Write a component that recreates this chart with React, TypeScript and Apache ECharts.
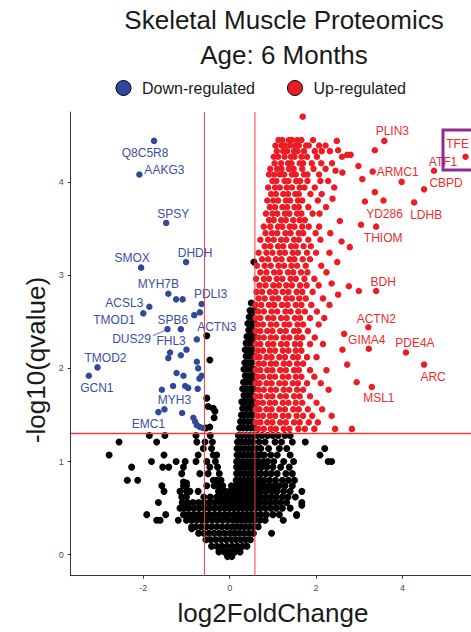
import React, { useEffect, useRef } from "react";
import * as echarts from "echarts";

// ---------- axis / thresholds ----------
const xTicks = [-2, 0, 2, 4];
const yTicks = [0, 1, 2, 3, 4];
const X_RANGE: [number, number] = [-3.68, 5.586];
const Y_RANGE: [number, number] = [-0.225, 4.75];
const FC_CUT = 0.585; // log2(1.5)
const Q_CUT = 1.301; // -log10(0.05)

// ---------- down-regulated (blue) ----------
const downLabeled: [string, number, number][] = [
  ["Q8C5R8", -1.75, 4.44],
  ["AAKG3", -2.09, 4.08],
  ["SPSY", -1.47, 3.56],
  ["SMOX", -2.05, 3.08],
  ["DHDH", -1.01, 3.14],
  ["MYH7B", -1.42, 2.8],
  ["PDLI3", -0.65, 2.69],
  ["ACSL3", -1.86, 2.66],
  ["TMOD1", -2.0, 2.59],
  ["SPB6", -1.13, 2.42],
  ["DUS29", -1.44, 2.42],
  ["ACTN3", -0.76, 2.31],
  ["FHL3", -1.38, 2.17],
  ["TMOD2", -3.06, 2.01],
  ["GCN1", -3.26, 1.92],
  ["MYH3", -1.51, 1.56],
  ["EMC1", -1.65, 1.53],
];
const downOther: [number, number][] = [
  [-1.24, 2.74], [-1.09, 2.74], [-0.82, 2.57], [-0.69, 2.6], [-1.42, 2.11],
  [-1.13, 2.14], [-1.0, 2.2], [-0.76, 2.07], [-0.73, 2.0], [-1.23, 1.95],
  [-1.07, 1.92], [-0.65, 1.92], [-0.7, 1.89], [-1.31, 1.81], [-1.03, 1.81],
  [-0.96, 1.79], [-1.57, 1.77], [-0.74, 1.78], [-1.1, 1.52], [-0.84, 1.47],
  [-0.8, 1.43], [-0.76, 1.39], [-0.69, 1.37], [-0.62, 1.36],
];

// ---------- up-regulated (red) ----------
const upLabeled: [string, number, number][] = [
  ["PLIN3", 3.58, 4.44],
  ["TFE", 5.46, 4.27],
  ["ATF1", 4.73, 4.12],
  ["ARMC1", 3.31, 4.11],
  ["CBPD", 4.5, 3.92],
  ["LDHB", 4.27, 3.78],
  ["YD286", 3.56, 3.8],
  ["THIOM", 3.39, 3.52],
  ["BDH", 3.39, 2.83],
  ["ACTN2", 3.21, 2.44],
  ["GIMA4", 3.22, 2.21],
  ["PDE4A", 4.08, 2.17],
  ["ARC", 4.5, 2.04],
  ["MSL1", 3.29, 1.8],
];
const upOther: [number, number][] = [
  [3.36, 4.34], [2.48, 4.44], [2.98, 4.17], [3.07, 4.03], [2.61, 4.1], [2.45, 4.12],
  [2.38, 3.82], [2.55, 3.58], [2.59, 3.36], [2.78, 3.3], [2.49, 3.14], [2.72, 4.29],
  [2.8, 4.29], [2.51, 4.34], [3.13, 3.79], [3.36, 3.89], [3.04, 3.54], [3.98, 4.0],
  [2.99, 2.83], [2.76, 2.88], [2.51, 2.79], [2.36, 2.91], [2.94, 1.85], [2.65, 2.37],
  [2.61, 2.2], [2.72, 2.04], [1.69, 4.7],
];
// rows of the dense red cloud: [-log10(q), log2FC values]
const upRows: [number, number[]][] = [
  [4.45, [1.13, 1.22, 1.37, 1.44, 1.56, 1.66, 1.93]],
  [4.39, [1.06, 1.2, 1.29, 1.4, 1.52, 1.6, 1.77, 1.83, 2.07, 2.22]],
  [4.33, [1.09, 1.24, 1.33, 1.49, 1.57, 1.72, 1.97, 2.13, 2.32]],
  [4.27, [1.02, 1.12, 1.27, 1.42, 1.5, 1.66, 1.79, 2.02, 2.6]],
  [4.2, [1.04, 1.19, 1.35, 1.43, 1.62, 1.7, 1.9, 2.12, 2.37]],
  [4.14, [0.94, 1.1, 1.2, 1.37, 1.48, 1.68, 1.94, 2.22]],
  [4.08, [0.91, 1.03, 1.16, 1.26, 1.44, 1.53, 1.72, 1.8, 2.07]],
  [4.01, [0.99, 1.08, 1.27, 1.36, 1.54, 1.63, 1.8, 2.1, 2.28]],
  [3.94, [0.89, 1.05, 1.16, 1.32, 1.44, 1.62, 1.73, 1.97, 2.42]],
  [3.87, [0.96, 1.07, 1.24, 1.35, 1.52, 1.6, 1.87, 2.13]],
  [3.8, [0.87, 1.01, 1.12, 1.3, 1.4, 1.58, 1.68, 2.04]],
  [3.73, [0.93, 1.05, 1.22, 1.33, 1.5, 1.6, 1.82, 2.23]],
  [3.66, [0.84, 0.99, 1.1, 1.28, 1.38, 1.56, 1.66, 1.92, 2.08]],
  [3.59, [0.91, 1.02, 1.19, 1.3, 1.47, 1.62, 1.74]],
  [3.52, [0.79, 0.94, 1.12, 1.22, 1.39, 1.5, 1.68, 1.83, 2.07]],
  [3.45, [0.83, 0.98, 1.1, 1.29, 1.41, 1.6, 1.7, 1.99, 2.33]],
  [3.38, [0.71, 0.89, 1.02, 1.19, 1.31, 1.49, 1.6, 1.82, 2.1]],
  [3.31, [0.81, 0.94, 1.12, 1.24, 1.42, 1.53, 1.71, 1.88]],
  [3.24, [0.67, 0.85, 0.99, 1.16, 1.28, 1.46, 1.58, 1.79, 2.0, 2.31]],
  [3.17, [0.75, 0.89, 1.07, 1.2, 1.39, 1.5, 1.69, 1.86]],
  [3.1, [0.63, 0.81, 0.95, 1.13, 1.26, 1.43, 1.56, 1.76, 2.12]],
  [3.03, [0.71, 0.85, 1.03, 1.16, 1.35, 1.47, 1.65, 1.8, 2.24]],
  [2.96, [0.61, 0.79, 0.91, 1.09, 1.22, 1.41, 1.53, 1.73, 1.96]],
  [2.89, [0.69, 0.83, 1.01, 1.14, 1.31, 1.44, 1.63, 1.78, 2.06]],
  [2.82, [0.62, 0.75, 0.93, 1.06, 1.23, 1.36, 1.55, 1.68, 1.92]],
  [2.75, [0.67, 0.81, 0.99, 1.12, 1.31, 1.44, 1.61, 1.76, 2.16]],
  [2.68, [0.6, 0.73, 0.91, 1.03, 1.21, 1.34, 1.53, 1.66, 1.89, 2.31]],
  [2.61, [0.66, 0.79, 0.97, 1.1, 1.29, 1.41, 1.59, 1.74, 2.02]],
  [2.54, [0.6, 0.71, 0.89, 1.01, 1.19, 1.32, 1.51, 1.63, 1.86, 2.19]],
  [2.47, [0.65, 0.77, 0.95, 1.08, 1.27, 1.38, 1.57, 1.7, 2.06]],
  [2.4, [0.6, 0.71, 0.87, 0.99, 1.17, 1.3, 1.49, 1.6, 1.81]],
  [2.33, [0.67, 0.79, 0.95, 1.07, 1.25, 1.38, 1.56, 1.68, 1.97]],
  [2.26, [0.6, 0.71, 0.89, 1.01, 1.19, 1.32, 1.51, 1.63, 1.86, 2.16]],
  [2.19, [0.65, 0.77, 0.93, 1.05, 1.23, 1.36, 1.53, 1.66]],
  [2.12, [0.6, 0.69, 0.85, 0.97, 1.15, 1.28, 1.47, 1.58, 1.79, 2.01]],
  [2.05, [0.67, 0.79, 0.95, 1.07, 1.25, 1.38, 1.56, 1.7]],
  [1.98, [0.6, 0.71, 0.87, 0.99, 1.17, 1.3, 1.49, 1.6, 1.86, 2.24]],
  [1.91, [0.65, 0.77, 0.93, 1.05, 1.23, 1.36, 1.53, 1.66, 1.96]],
  [1.84, [0.6, 0.69, 0.85, 0.97, 1.15, 1.28, 1.46, 1.58, 1.79, 2.11]],
  [1.77, [0.67, 0.79, 0.95, 1.07, 1.25, 1.38, 1.56, 1.7, 2.29]],
  [1.7, [0.6, 0.71, 0.87, 0.99, 1.17, 1.3, 1.49, 1.62, 1.86]],
  [1.63, [0.65, 0.77, 0.93, 1.05, 1.23, 1.36, 1.53, 1.68, 2.01]],
  [1.56, [0.6, 0.69, 0.85, 0.97, 1.15, 1.28, 1.47, 1.6, 1.81, 2.14]],
  [1.49, [0.65, 0.77, 0.93, 1.05, 1.23, 1.36, 1.55, 1.7, 1.91, 2.36]],
  [1.42, [0.6, 0.71, 0.87, 0.99, 1.17, 1.3, 1.49, 1.62, 1.83, 2.04]],
  [1.35, [0.66, 0.79, 0.95, 1.07, 1.25, 1.38, 1.59, 1.74, 1.96, 2.44, 2.83]],
];

// ---------- not significant (black) ----------
const nsRows: [number, number[]][] = [
  [2.7, [0.5]],
  [2.62, [0.47, 0.56]],
  [2.55, [0.45, 0.53]],
  [2.48, [0.42, 0.5, 0.57]],
  [2.41, [0.44, 0.53]],
  [2.34, [0.4, 0.48, 0.56]],
  [2.27, [0.38, 0.46, 0.55]],
  [2.2, [0.36, 0.44, 0.52]],
  [2.13, [0.38, 0.47, 0.56]],
  [2.06, [0.35, 0.43, 0.51]],
  [1.99, [0.33, 0.41, 0.5, 0.57]],
  [1.92, [0.36, 0.45, 0.54]],
  [1.85, [0.32, 0.4, 0.49, 0.57]],
  [1.78, [0.3, 0.38, 0.47, 0.55]],
  [1.71, [0.33, 0.42, 0.51]],
  [1.64, [0.28, 0.37, 0.46, 0.55]],
  [1.57, [0.3, 0.39, 0.48, 0.57]],
  [1.5, [0.27, 0.35, 0.44, 0.53]],
  [1.43, [0.25, 0.33, 0.42, 0.51]],
  [1.36, [0.23, 0.31, 0.4, 0.49, 0.57]],
  [1.28, [-1.86, -1.5, -0.78, -0.45, 0.2, 0.28, 0.37, 0.46, 0.55, 0.64, 0.75, 0.88, 1.0, 1.12, 1.28, 1.4]],
  [1.21, [-2.56, -1.69, -0.76, -0.57, -0.4, 0.18, 0.27, 0.36, 0.45, 0.54, 0.68, 0.82, 1.05, 1.2, 1.45, 1.75]],
  [1.14, [-0.61, -0.42, 0.17, 0.25, 0.34, 0.43, 0.52, 0.62, 0.72, 0.9, 1.15, 1.32, 2.2]],
  [1.07, [-2.79, -1.52, -0.73, -0.38, -0.3, 0.17, 0.23, 0.32, 0.41, 0.5, 0.6, 0.7, 0.8, 0.95, 1.1, 1.4, 2.09]],
  [1.0, [-1.81, -1.24, -1.03, -0.78, -0.53, -0.33, 0.16, 0.21, 0.3, 0.39, 0.48, 0.57, 0.66, 0.78, 0.88, 1.02, 1.25, 1.48, 2.28, 2.36]],
  [0.94, [-2.27, -1.55, -1.41, -1.07, -0.46, -0.28, 0.16, 0.22, 0.28, 0.37, 0.46, 0.55, 0.64, 0.74, 0.86, 1.0, 1.18, 1.38]],
  [0.87, [-1.11, -0.69, -0.5, -0.24, 0.16, 0.25, 0.34, 0.43, 0.52, 0.62, 0.72, 0.84, 0.96, 1.1, 1.3, 1.45]],
  [0.8, [-2.37, -2.13, -0.38, -0.3, -0.2, 0.15, 0.24, 0.33, 0.42, 0.51, 0.6, 0.7, 0.8, 0.92, 1.06, 1.22, 1.36, 1.5]],
  [0.74, [-1.57, -1.07, -1.0, -0.53, -0.36, -0.26, -0.16, 0.04, 0.13, 0.22, 0.31, 0.4, 0.49, 0.58, 0.68, 0.78, 0.9, 1.02, 1.14, 1.28, 1.45]],
  [0.68, [-1.52, -1.15, -1.0, -0.92, -0.73, -0.26, -0.19, -0.1, 0.0, 0.09, 0.18, 0.27, 0.36, 0.45, 0.54, 0.64, 0.74, 0.85, 0.98, 1.1, 1.25, 1.4, 1.67]],
  [0.62, [-1.11, -1.0, -0.6, -0.45, -0.3, -0.19, -0.08, 0.02, 0.12, 0.22, 0.32, 0.42, 0.52, 0.62, 0.72, 0.84, 0.96, 1.08, 1.22, 1.35, 1.52]],
  [0.56, [-1.65, -1.1, -0.98, -0.85, -0.72, -0.6, -0.48, -0.36, -0.24, -0.13, -0.03, 0.08, 0.18, 0.28, 0.38, 0.48, 0.58, 0.68, 0.8, 0.92, 1.05, 1.18, 1.32, 1.67]],
  [0.5, [-1.15, -1.05, -0.94, -0.82, -0.7, -0.58, -0.46, -0.34, -0.22, -0.11, 0.0, 0.1, 0.2, 0.3, 0.4, 0.5, 0.6, 0.7, 0.82, 0.95, 1.08, 1.22, 1.4]],
  [0.43, [-1.92, -1.48, -1.07, -0.96, -0.84, -0.72, -0.6, -0.48, -0.36, -0.24, -0.12, -0.01, 0.1, 0.2, 0.3, 0.4, 0.5, 0.6, 0.72, 0.85, 1.0, 1.15, 1.55]],
  [0.37, [-1.69, -1.61, -1.19, -1.0, -0.88, -0.76, -0.64, -0.52, -0.4, -0.28, -0.16, -0.04, 0.08, 0.18, 0.28, 0.38, 0.48, 0.58, 0.7, 0.82, 1.24]],
  [0.3, [-0.88, -0.78, -0.66, -0.54, -0.42, -0.3, -0.18, -0.06, 0.05, 0.15, 0.25, 0.35, 0.45, 0.55, 0.66]],
  [0.23, [-0.72, -0.6, -0.48, -0.36, -0.24, -0.12, 0.0, 0.11, 0.22, 0.33, 0.44, 0.55, 0.97]],
  [0.16, [-0.55, -0.44, -0.32, -0.2, -0.08, 0.04, 0.15, 0.26, 0.37, 0.48]],
  [0.09, [-0.42, -0.3, -0.18, -0.06, 0.06, 0.18, 0.3, 0.4]],
  [0.03, [-0.25, -0.12, 0.0, 0.12, 0.24]],
  [-0.02, [-0.05, 0.05]],
];
const nsOther: [number, number][] = [
  [0.56, 3.14], [-0.53, 2.35], [-0.46, 2.09], [-0.53, 1.68], [-0.38, 1.57],
  [-0.5, 1.59], [-0.36, 1.47], [-0.46, 1.37], [-0.55, 1.36], [-0.34, 1.54],
  [1.67, 0.53], [1.55, 0.42], [-0.88, 0.28], [-1.0, 0.77], [-1.07, 0.78],
];

// ---------- label placement (pixel offsets from the point) ----------
const labelOffsets: Record<string, [number, number]> = {
  Q8C5R8: [-9, 12], AAKG3: [25, -4], SPSY: [7, -9], SMOX: [-9, -10],
  DHDH: [9, -9], MYH7B: [-10, -10], PDLI3: [9, -10], ACSL3: [-25, -4],
  TMOD1: [-29, 7], SPB6: [-8, -9], DUS29: [-36, 10], ACTN3: [20, -12],
  FHL3: [1, -11], TMOD2: [8, -9], GCN1: [8, 12], MYH3: [10, -9], EMC1: [-10, 12],
  PLIN3: [8, -10], TFE: [-8, -13], ATF1: [9, -9], ARMC1: [25, 0], CBPD: [22, -6],
  LDHB: [12, 13], YD286: [1, 13], THIOM: [7, 11], BDH: [7, -9], ACTN2: [8, -8],
  GIMA4: [-2, -9], PDE4A: [9, -9], ARC: [9, 12], MSL1: [7, 11],
};

const FONT = "'Liberation Sans', Arial, Helvetica, sans-serif";
const BLUE = "#30489C";
const BLUE_TXT = "#3A4EA6";
const RED = "#EC1C24";
const RED_TXT = "#EE2C2C";
const LINE_RED = "#EE3B40";

const rowsToPoints = (rows: [number, number[]][]) =>
  rows.flatMap(([y, xs]) => xs.map((x) => [x, y]));

function labeledItems(list: [string, number, number][], color: string) {
  return list.map(([name, x, y]) => ({
    name,
    value: [x, y],
    label: {
      show: true,
      position: "inside",
      formatter: name,
      offset: labelOffsets[name] || [0, -10],
      color,
      fontSize: 12,
      fontFamily: FONT,
    },
  }));
}

function thresholdLine(name: string, data: number[][], width: number) {
  return {
    name,
    type: "line",
    data,
    symbol: "none",
    showSymbol: false,
    silent: true,
    z: 6,
    lineStyle: { color: LINE_RED, width, type: "solid" },
    itemStyle: { color: LINE_RED },
  };
}

export default function App() {
  const ref = useRef<HTMLDivElement>(null);

  useEffect(() => {
    if (!ref.current) return;
    const chart = echarts.init(ref.current, null, { renderer: "svg" });

    const axisCommon = {
      type: "value",
      splitLine: { show: false },
      axisLine: { show: true, onZero: false, lineStyle: { color: "#333333", width: 1 } },
    };

    chart.setOption({
      animation: false,
      textStyle: { fontFamily: FONT },
      grid: { left: 70.7, top: 112, width: 400.3, height: 463.7 },
      xAxis: {
        ...axisCommon,
        min: X_RANGE[0],
        max: X_RANGE[1],
        axisTick: { show: true, length: 3, lineStyle: { color: "#333333" }, customValues: xTicks },
        axisLabel: { customValues: xTicks, color: "#4D4D4D", fontSize: 9, margin: 8 },
      },
      yAxis: {
        ...axisCommon,
        min: Y_RANGE[0],
        max: Y_RANGE[1],
        axisTick: { show: true, length: 3, lineStyle: { color: "#333333" }, customValues: yTicks },
        axisLabel: { customValues: yTicks, color: "#4D4D4D", fontSize: 9, margin: 7 },
      },
      legend: {
        data: [
          { name: "Down-regulated", itemStyle: { borderColor: "#000", borderWidth: 1 } },
          { name: "Up-regulated", itemStyle: { borderColor: "#000", borderWidth: 1 } },
        ],
        left: 110.5,
        top: 75,
        icon: "circle",
        itemWidth: 15,
        itemHeight: 15,
        itemGap: 32,
        selectedMode: false,
        textStyle: { fontSize: 16, color: "#1A1A1A", padding: [0, 0, 0, 6], fontFamily: FONT },
      },
      series: [
        {
          name: "NS",
          type: "scatter",
          symbol: "circle",
          symbolSize: 7,
          itemStyle: { color: "#000000", opacity: 1 },
          data: [...rowsToPoints(nsRows), ...nsOther],
          z: 2,
          silent: true,
        },
        {
          name: "Up-regulated",
          type: "scatter",
          symbol: "circle",
          symbolSize: 6.5,
          itemStyle: { color: RED, opacity: 1 },
          data: [...rowsToPoints(upRows), ...upOther, ...labeledItems(upLabeled, RED_TXT)],
          z: 3,
          silent: true,
        },
        {
          name: "Down-regulated",
          type: "scatter",
          symbol: "circle",
          symbolSize: 6.5,
          itemStyle: { color: BLUE, opacity: 1 },
          data: [...downOther, ...labeledItems(downLabeled, BLUE_TXT)],
          z: 4,
          silent: true,
          markLine: {
            silent: true,
            symbol: "none",
            label: { show: false },
            lineStyle: { color: BLUE_TXT, width: 0.8, type: "solid" },
            data: [[{ coord: [-1.78, 2.35] }, { coord: [-1.48, 2.41] }]],
          },
        },
        thresholdLine("fcLow", [[-FC_CUT, Y_RANGE[0]], [-FC_CUT, Y_RANGE[1]]], 1),
        thresholdLine("fcHigh", [[FC_CUT, Y_RANGE[0]], [FC_CUT, Y_RANGE[1]]], 1),
        thresholdLine("qCut", [[X_RANGE[0], Q_CUT], [X_RANGE[1], Q_CUT]], 1.5),
      ],
      graphic: [
        {
          type: "text",
          x: 284,
          y: 20,
          style: { text: "Skeletal Muscle Proteomics", fontSize: 26, fill: "#1A1A1A", align: "center", verticalAlign: "middle", fontFamily: FONT },
        },
        {
          type: "text",
          x: 284,
          y: 54.5,
          style: { text: "Age: 6 Months", fontSize: 26, fill: "#1A1A1A", align: "center", verticalAlign: "middle", fontFamily: FONT },
        },
        {
          type: "text",
          x: 273,
          y: 613,
          style: { text: "log2FoldChange", fontSize: 26, fill: "#1A1A1A", align: "center", verticalAlign: "middle", fontFamily: FONT },
        },
        {
          type: "text",
          x: 36,
          y: 360,
          rotation: Math.PI / 2,
          style: { text: "-log10(qvalue)", fontSize: 26, fill: "#1A1A1A", align: "center", verticalAlign: "middle", fontFamily: FONT },
        },
        {
          type: "rect",
          z: 100,
          shape: { x: 443, y: 130, width: 40, height: 40 },
          style: { fill: "none", stroke: "#922B8E", lineWidth: 3 },
        },
      ],
    });

    return () => chart.dispose();
  }, []);

  return (
    <div
      ref={ref}
      style={{ position: "fixed", left: 0, top: 0, width: 471, height: 632, background: "#ffffff" }}
    />
  );
}
